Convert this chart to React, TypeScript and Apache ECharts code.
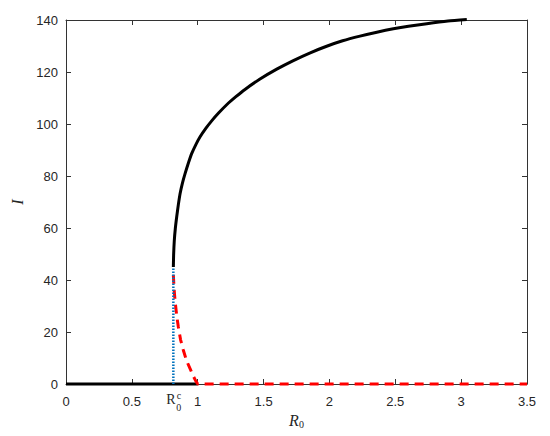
import React, { useEffect, useRef } from "react";
import * as echarts from "echarts";

const xTickValues = [0, 0.5, 1, 1.5, 2, 2.5, 3, 3.5];
const yTickValues = [0, 20, 40, 60, 80, 100, 120, 140];
const R0c = 0.815;

// stable endemic branch (black solid)
const upperR0 = [0.815, 0.817, 0.822, 0.83, 0.841, 0.853, 0.866, 0.884, 0.904, 0.928, 0.954, 0.985, 1.017, 1.06, 1.106, 1.16, 1.22, 1.29, 1.359, 1.473, 1.6, 1.726, 1.85, 1.979, 2.1, 2.232, 2.36, 2.485, 2.6, 2.739, 2.9, 3.043];
const upperI = [45, 49.5, 55, 59.8, 64.5, 69, 73.2, 77.3, 80.9, 84.8, 88.6, 92, 95, 98.2, 101.2, 104.3, 107.4, 110.5, 113.3, 117.3, 121.1, 124.4, 127.3, 129.9, 132, 133.8, 135.3, 136.6, 137.6, 138.6, 139.6, 140.2];

// unstable branch (red dashed)
const lowerR0 = [0.815, 0.82, 0.828, 0.84, 0.853, 0.87, 0.891, 0.915, 0.942, 0.965, 0.985, 1.0, 3.5];
const lowerI = [42, 37, 32, 26.5, 21.9, 17, 13, 9, 5.9, 3.2, 1.2, 0, 0];

// disease-free stable equilibrium (black solid)
const dfeR0 = [0, 1];
const dfeI = [0, 0];

// critical value marker (blue dotted)
const critR0 = [R0c, R0c];
const critI = [0, 45];

const zip = (a: number[], b: number[]) => a.map((v, i) => [v, b[i]]);

const axisColor = "#333333";
const sans = "Liberation Sans";
const serif = "Liberation Serif";

export default function App() {
  const ref = useRef<HTMLDivElement>(null);
  useEffect(() => {
    if (!ref.current) return;
    const chart = echarts.init(ref.current, undefined, { renderer: "svg" });
    const baseX = {
      type: "value" as const,
      min: 0,
      max: 3.5,
      interval: 0.5,
      splitLine: { show: false },
      axisLine: { show: true, onZero: false, lineStyle: { color: axisColor, width: 1 } },
      axisTick: { show: true, inside: true, length: 5, lineStyle: { color: axisColor } },
    };
    const baseY = {
      type: "value" as const,
      min: 0,
      max: 140,
      interval: 20,
      splitLine: { show: false },
      axisLine: { show: true, onZero: false, lineStyle: { color: axisColor, width: 1 } },
      axisTick: { show: true, inside: true, length: 5, lineStyle: { color: axisColor } },
    };
    chart.setOption({
      animation: false,
      backgroundColor: "#ffffff",
      grid: { left: 66, right: 23, top: 20, bottom: 52, containLabel: false, outerBoundsMode: "none" },
      xAxis: [
        {
          ...baseX,
          position: "bottom",
          axisLabel: {
            show: true,
            margin: 11,
            color: "#262626",
            fontFamily: sans,
            fontSize: 13,
            formatter: (v: number) => (xTickValues.includes(v) ? String(v) : ""),
          },
          name: "{r|R}{s|0}",
          nameLocation: "middle",
          nameGap: 23,
          nameTextStyle: {
            rich: {
              r: { fontFamily: serif, fontStyle: "italic", fontSize: 16, lineHeight: 18, verticalAlign: "top", color: "#262626" },
              s: { fontFamily: serif, fontSize: 10, lineHeight: 12, verticalAlign: "top", padding: [7, 0, 0, 0], color: "#262626" },
            },
          },
        },
        { ...baseX, position: "top", axisLabel: { show: false } },
      ],
      yAxis: [
        {
          ...baseY,
          position: "left",
          axisLabel: {
            show: true,
            margin: 8,
            color: "#262626",
            fontFamily: sans,
            fontSize: 13,
            formatter: (v: number) => (yTickValues.includes(v) ? String(v) : ""),
          },
          name: "I",
          nameLocation: "middle",
          nameGap: 40,
          nameTextStyle: { fontFamily: serif, fontStyle: "italic", fontSize: 16, color: "#262626" },
        },
        { ...baseY, position: "right", axisLabel: { show: false } },
      ],
      series: [
        {
          type: "line",
          data: zip(upperR0, upperI),
          showSymbol: false,
          symbol: "none",
          smooth: 0.2,
          clip: false,
          lineStyle: { color: "#000000", width: 3 },
          z: 3,
        },
        {
          type: "line",
          data: zip(dfeR0, dfeI),
          showSymbol: false,
          symbol: "none",
          clip: false,
          lineStyle: { color: "#000000", width: 3 },
          z: 3,
        },
        {
          type: "line",
          data: zip(lowerR0, lowerI),
          showSymbol: false,
          symbol: "none",
          clip: false,
          lineStyle: { color: "#ff0000", width: 3, type: [9, 6] },
          z: 4,
        },
        {
          type: "line",
          data: zip(critR0, critI),
          showSymbol: false,
          symbol: "none",
          clip: false,
          lineStyle: { color: "#0072BD", width: 2.5, type: [1.5, 1.5] },
          z: 5,
        },
      ],
    });
    const px = chart.convertToPixel({ xAxisIndex: 0 }, R0c) as number;
    const py = chart.convertToPixel({ yAxisIndex: 0 }, 0) as number;
    chart.setOption({
      graphic: [
        {
          type: "text",
          x: px - 2.5,
          y: py + 15.5,
          style: { text: "R", fontFamily: serif, fontSize: 14, fill: "#262626", align: "center", verticalAlign: "middle" },
        },
        {
          type: "text",
          x: px + 5.5,
          y: py + 11.5,
          style: { text: "c", fontFamily: serif, fontSize: 10, fill: "#262626", align: "center", verticalAlign: "middle" },
        },
        {
          type: "text",
          x: px + 5.5,
          y: py + 23.5,
          style: { text: "0", fontFamily: serif, fontSize: 10, fill: "#262626", align: "center", verticalAlign: "middle" },
        },
      ],
    });
    return () => chart.dispose();
  }, []);
  return <div ref={ref} style={{ position: "absolute", left: 0, top: 0, width: 550, height: 436 }} />;
}
